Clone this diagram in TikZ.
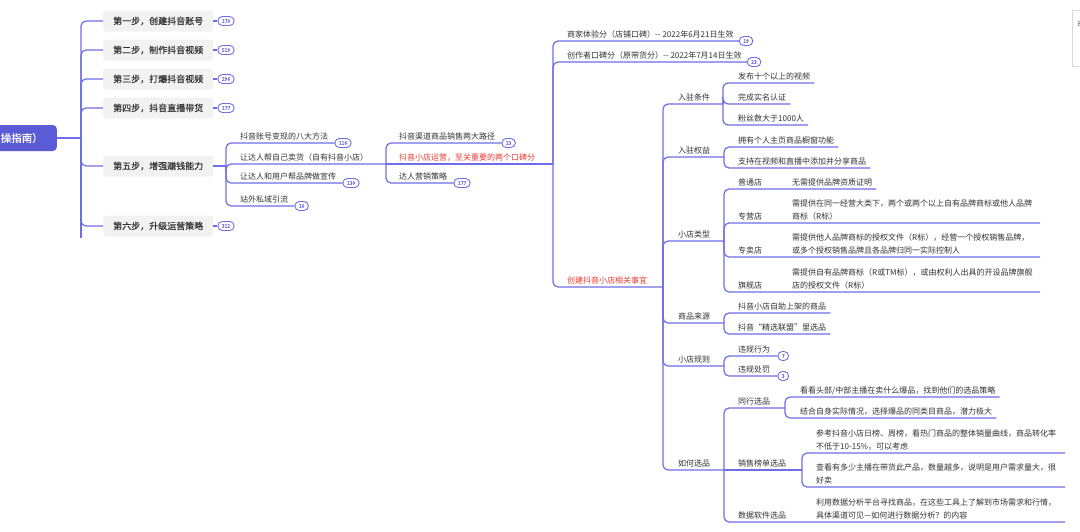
\documentclass[tikz,border=0pt]{standalone}
\usepackage{fontspec}
\usetikzlibrary{calc}
\newfontfamily\cjk{Noto Sans CJK SC}
\newfontfamily\cjkb[FakeBold=0.6]{Noto Sans CJK SC}
\definecolor{lnc}{HTML}{6E6EE6}
\definecolor{rootc}{HTML}{5B5BD6}
\definecolor{boxc}{HTML}{F2F2F2}
\definecolor{txtc}{HTML}{333333}
\definecolor{redt}{HTML}{E8392E}
\tikzset{
  link/.style={draw=lnc, line width=1.2pt, rounded corners=5pt},
  lbl/.style={inner sep=0pt, anchor=base west, font=\cjk\fontsize{8}{12.5}\selectfont, text=txtc},
  desc/.style={lbl, align=left},
  redlbl/.style={lbl, text=redt},
  stepbox/.style={fill=boxc, rounded corners=3pt, minimum width=110pt, minimum height=21pt, inner sep=0pt, anchor=west, font=\cjkb\fontsize{9}{11}\selectfont, text=txtc},
  rootbox/.style={fill=rootc, rounded corners=4pt, anchor=east, minimum height=26pt, text width=62pt, align=right, inner xsep=14pt, inner ysep=0pt, font=\cjkb\fontsize{10.5}{12}\selectfont, text=white},
  badge/.style={draw=lnc, fill=white, line width=0.9pt, rounded corners=4.5pt, minimum height=9pt, minimum width=10pt, inner xsep=4pt, inner ysep=0pt, font=\cjkb\fontsize{5}{5}\selectfont, text=lnc, anchor=west},
}
\begin{document}
\begin{tikzpicture}[x=1pt,y=-1pt]
\useasboundingbox (0,0) rectangle (1080,531);
\fill[white] (0,0) rectangle (1080,531);
\clip (0,0) rectangle (1080,531);

% ---------- root and steps ----------
\node[rootbox] (root) at (57,138) {操指南）};
\node[stepbox] (s1) at (103,21) {第一步，创建抖音账号};
\node[stepbox] (s2) at (103,50) {第二步，制作抖音视频};
\node[stepbox] (s3) at (103,79) {第三步，打爆抖音视频};
\node[stepbox] (s4) at (103,108) {第四步，抖音直播带货};
\node[stepbox] (s5) at (103,166) {第五步，增强赚钱能力};
\node[stepbox] (s6) at (103,226) {第六步，升级运营策略};
\node[badge] (b1) at ($(s1.east)+(4,0)$) {170};
\node[badge] (b2) at ($(s2.east)+(4,0)$) {519};
\node[badge] (b3) at ($(s3.east)+(4,0)$) {296};
\node[badge] (b4) at ($(s4.east)+(4,0)$) {177};
\node[badge] (b6) at ($(s6.east)+(4,0)$) {312};
\coordinate (tA) at (81,138);
\coordinate (tAend) at (81,238);
\draw[link] (root.east) -- (tA);
\foreach \s in {s1,s2,s3,s4,s5,s6} \draw[link] (tA) |- (\s.west);
\draw[link] (tA) -- (tAend);
\foreach \s/\b in {s1/b1,s2/b2,s3/b3,s4/b4,s6/b6} \draw[link] (\s.east) -- (\b.west);

% ---------- level B ----------
\coordinate (tB) at (226,166);
\draw[link] (s5.east) -- (tB);
\node[lbl] (c1) at (240,139) {抖音账号变现的八大方法};
\node[badge] (bc1) at ($(c1.base east)+(6,4)$) {116};
\node[lbl] (c2) at (240,160) {让达人帮自己卖货（自有抖音小店）};
\node[lbl] (c3) at (240,179) {让达人和用户帮品牌做宣传};
\node[badge] (bc3) at ($(c3.base east)+(6,4)$) {130};
\node[lbl] (c4) at (240,202) {站外私域引流};
\node[badge] (bc4) at ($(c4.base east)+(6,4)$) {16};
\coordinate (tC) at (386,164);
\draw[link] (tB) |- (bc1.west);
\draw[link] (tB) |- (tC);
\draw[link] (tB) |- (bc3.west);
\draw[link] (tB) |- (bc4.west);

% ---------- level C ----------
\node[lbl] (d1) at (399,139) {抖音渠道商品销售两大路径};
\node[badge] (bd1) at ($(d1.base east)+(6,4)$) {23};
\node[redlbl] (d2) at (399,160) {抖音小店运营，至关重要的两个口碑分};
\node[lbl] (d3) at (399,179) {达人营销策略};
\node[badge] (bd3) at ($(d3.base east)+(6,4)$) {177};
\coordinate (tD) at (553,164);
\draw[link] (tC) |- (bd1.west);
\draw[link] (tC) -- (tD);
\draw[link] (tC) |- (bd3.west);

% ---------- level D ----------
\node[lbl] (e1) at (567,37) {商家体验分（店铺口碑）-- 2022年6月21日生效};
\node[badge] (be1) at ($(e1.base east)+(5,4)$) {19};
\node[lbl] (e2) at (567,58) {创作者口碑分（原带货分）-- 2022年7月14日生效};
\node[badge] (be2) at ($(e2.base east)+(5,4)$) {23};
\node[redlbl] (e3) at (567,283) {创建抖音小店相关事宜};
\coordinate (tE) at (663,287);
\draw[link] (tD) |- (be1.west);
\draw[link] (tD) |- (be2.west);
\draw[link] (tD) |- (tE);

% ---------- level E ----------
\node[lbl] (f1) at (678,100) {入驻条件};
\node[lbl] (f2) at (678,153) {入驻权益};
\node[lbl] (f3) at (678,237) {小店类型};
\node[lbl] (f4) at (678,319) {商品来源};
\node[lbl] (f5) at (678,362) {小店规则};
\node[lbl] (f6) at (678,466) {如何选品};
\coordinate (tF1) at (723,104);
\coordinate (tF2) at (724,157);
\coordinate (tF3) at (724,241);
\coordinate (tF4) at (724,323);
\coordinate (tF5) at (724,366);
\coordinate (tF6) at (724,470);
\foreach \t in {tF1,tF2,tF3,tF4,tF5,tF6} \draw[link] (tE) |- (\t);

% ---------- level F ----------
% 入驻条件
\node[lbl] (g11) at (738,79) {发布十个以上的视频};
\node[lbl] (g12) at (738,100) {完成实名认证};
\node[lbl] (g13) at (738,121) {粉丝数大于1000人};
\foreach \n in {g11,g12,g13} \draw[link] (tF1) |- ($(\n.base east)+(4,4)$);
% 入驻权益
\node[lbl] (g21) at (738,143) {拥有个人主页商品橱窗功能};
\node[lbl] (g22) at (738,164) {支持在视频和直播中添加并分享商品};
\foreach \n in {g21,g22} \draw[link] (tF2) |- ($(\n.base east)+(4,4)$);
% 小店类型
\node[lbl] (g31) at (738,185) {普通店};
\node[lbl] (h31) at (792,185) {无需提供品牌资质证明};
\node[lbl] (g32) at (738,219) {专营店};
\node[desc] (h32) at (792,219) {需提供在同一经营大类下，两个或两个以上自有品牌商标或他人品牌\\商标（R标）};
\node[lbl] (g33) at (738,253) {专卖店};
\node[desc] (h33) at (792,253) {需提供他人品牌商标的授权文件（R标），经营一个授权销售品牌，\\或多个授权销售品牌且各品牌归同一实际控制人};
\node[lbl] (g34) at (738,288) {旗舰店};
\node[desc] (h34) at (792,288) {需提供自有品牌商标（R或TM标），或由权利人出具的开设品牌旗舰\\店的授权文件（R标）};
\coordinate (x32) at (1040,223);
\coordinate (x33) at (1040,257);
\coordinate (x34) at (1040,292);
\draw[link] (tF3) |- ($(h31.base east)+(4,4)$);
\foreach \x in {x32,x33,x34} \draw[link] (tF3) |- (\x);
% 商品来源
\node[lbl] (g41) at (738,309) {抖音小店自助上架的商品};
\node[lbl] (g42) at (738,330) {抖音“精选联盟”里选品};
\foreach \n in {g41,g42} \draw[link] (tF4) |- ($(\n.base east)+(4,4)$);
% 小店规则
\node[lbl] (g51) at (738,352) {违规行为};
\node[badge] (bg51) at ($(g51.base east)+(7,4)$) {7};
\node[lbl] (g52) at (738,372) {违规处罚};
\node[badge] (bg52) at ($(g52.base east)+(7,4)$) {3};
\draw[link] (tF5) |- (bg51.west);
\draw[link] (tF5) |- (bg52.west);
% 如何选品
\node[lbl] (g61) at (738,404) {同行选品};
\node[lbl] (g62) at (738,466) {销售榜单选品};
\node[lbl] (g63) at (738,518) {数据软件选品};
\node[desc] (h63) at (816,518) {利用数据分析平台寻找商品，在这些工具上了解到市场需求和行情，\\具体渠道可见—如何进行数据分析？的内容};
\coordinate (tG1) at (785,408);
\coordinate (tG2) at (802,470);
\coordinate (x63) at (1065,522);
\draw[link] (tF6) |- (tG1);
\draw[link] (tF6) -- (tG2);
\draw[link] (tF6) |- (x63);

% ---------- level G ----------
\node[lbl] (k11) at (800,393) {看看头部/中部主播在卖什么爆品，找到他们的选品策略};
\node[lbl] (k12) at (800,414) {结合自身实际情况，选择爆品的同类目商品，潜力极大};
\foreach \n in {k11,k12} \draw[link] (tG1) |- ($(\n.base east)+(4,4)$);
\node[desc] (k21) at (816,449) {参考抖音小店日榜、周榜，看热门商品的整体销量曲线，商品转化率\\不低于10-15\%，可以考虑};
\node[desc] (k22) at (816,483) {查看有多少主播在带货此产品，数量越多，说明是用户需求量大，很\\好卖};
\coordinate (x21) at (1065,453);
\coordinate (x22) at (1065,487);
\draw[link] (tG2) |- (x21);
\draw[link] (tG2) |- (x22);

% ---------- side panel ----------
\draw[draw=black!15, fill=white] (1072,10) rectangle (1100,66);
\node[lbl, text=black!70, font=\cjk\fontsize{7}{8}\selectfont] (pn) at (1077.5,26) {8};
\end{tikzpicture}
\end{document}
